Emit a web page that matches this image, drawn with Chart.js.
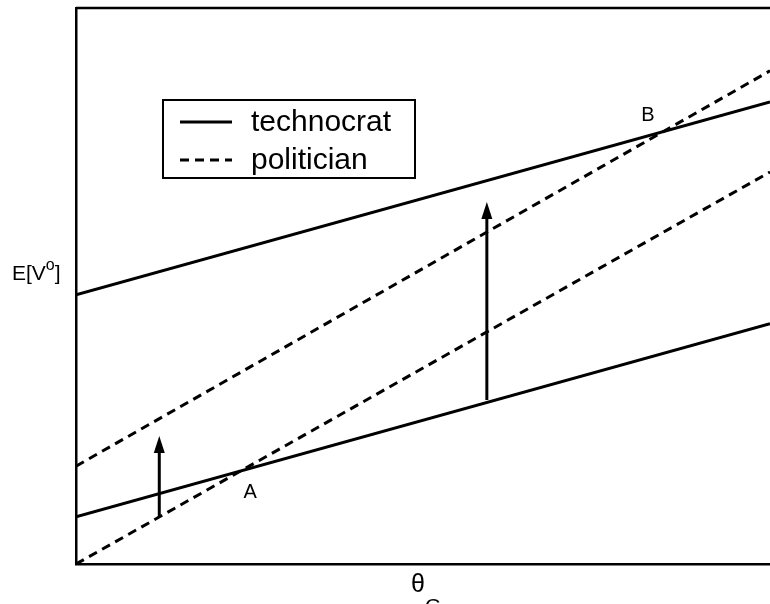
<!DOCTYPE html>
<html>
<head>
<meta charset="utf-8">
<script src="https://cdn.jsdelivr.net/npm/chart.js@4"></script>
<style>
html, body { margin: 0; padding: 0; background: #fff; }
#wrap { width: 770px; height: 604px; }
</style>
</head>
<body>
<div id="wrap"><canvas id="c" width="770" height="604"></canvas></div>
<script>
// x domain (theta_G) endpoints
const xValues = [0, 10];
// technocrat lines (E[V°] at x = 0 and x = 10)
const technocratHigh = [4.84, 8.31];
const technocratLow = [0.85, 4.32];
// politician lines
const politicianHigh = [1.76, 8.87];
const politicianLow = [0.0, 7.05];
// arrows
const arrowX = [1.2, 5.92];
const arrowFrom = [0.85, 2.95];
const arrowTo = [2.30, 6.51];
// point labels
const pointLabels = ['A', 'B'];
const pointLabelX = [2.51, 8.24];
const pointLabelY = [1.28, 8.06];
// legend / axis texts
const legendLabels = ['technocrat', 'politician'];
const yTitle = 'E[V';
const ySup = 'o';
const yTitleEnd = ']';
const xTitle = 'θ';
const xSub = 'G';

const FONT = '"Liberation Sans", Arial, sans-serif';
const toPts = arr => xValues.map((x, i) => ({x: x, y: arr[i]}));

function ds(label, arr, dashed) {
  return {
    label: label,
    data: toPts(arr),
    showLine: true,
    borderColor: '#000',
    borderWidth: 3,
    borderDash: dashed ? [9, 6] : [],
    pointRadius: 0,
    pointHoverRadius: 0,
    fill: false,
    tension: 0
  };
}

const overlay = {
  id: 'overlay',
  afterDatasetsDraw(chart) {
    const ctx = chart.ctx;
    const xs = chart.scales.x, ys = chart.scales.y;
    const a = chart.chartArea;
    ctx.save();
    // top border
    ctx.strokeStyle = '#000';
    ctx.lineWidth = 2.5;
    ctx.beginPath();
    ctx.moveTo(a.left, a.top);
    ctx.lineTo(a.right, a.top);
    ctx.stroke();

    // arrows
    ctx.fillStyle = '#000';
    ctx.lineWidth = 3;
    const headLen = 17, headW = 11;
    for (let i = 0; i < arrowX.length; i++) {
      const px = xs.getPixelForValue(arrowX[i]);
      const y0 = ys.getPixelForValue(arrowFrom[i]);
      const y1 = ys.getPixelForValue(arrowTo[i]);
      ctx.beginPath();
      ctx.moveTo(px, y0);
      ctx.lineTo(px, y1 + headLen - 1);
      ctx.stroke();
      ctx.beginPath();
      ctx.moveTo(px, y1);
      ctx.lineTo(px - headW / 2, y1 + headLen);
      ctx.lineTo(px + headW / 2, y1 + headLen);
      ctx.closePath();
      ctx.fill();
    }

    // point labels
    ctx.font = '20px ' + FONT;
    ctx.textAlign = 'center';
    ctx.textBaseline = 'middle';
    for (let i = 0; i < pointLabels.length; i++) {
      ctx.fillText(pointLabels[i], xs.getPixelForValue(pointLabelX[i]), ys.getPixelForValue(pointLabelY[i]));
    }

    // legend box
    const lx = a.left + 87, ly = a.top + 92, lw = 252, lh = 78;
    ctx.lineWidth = 2;
    ctx.strokeRect(lx, ly, lw, lh);
    const rows = [
      {label: legendLabels[0], dash: chart.data.datasets[0].borderDash, y: ly + 22},
      {label: legendLabels[1], dash: chart.data.datasets[2].borderDash, y: ly + 60}
    ];
    ctx.font = '30px ' + FONT;
    ctx.textAlign = 'left';
    ctx.textBaseline = 'middle';
    rows.forEach(r => {
      ctx.lineWidth = 3;
      ctx.setLineDash(r.dash);
      ctx.beginPath();
      ctx.moveTo(lx + 17, r.y);
      ctx.lineTo(lx + 69, r.y);
      ctx.stroke();
      ctx.setLineDash([]);
      ctx.fillText(r.label, lx + 88, r.y + 1);
    });

    // y axis title
    ctx.textBaseline = 'alphabetic';
    ctx.textAlign = 'left';
    const midY = (a.top + a.bottom) / 2;
    let tx = a.left - 64;
    const by = midY - 6;
    ctx.font = '21px ' + FONT;
    ctx.fillText(yTitle, tx, by);
    tx += ctx.measureText(yTitle).width;
    ctx.font = '16px ' + FONT;
    ctx.fillText(ySup, tx, by - 10);
    tx += ctx.measureText(ySup).width;
    ctx.font = '21px ' + FONT;
    ctx.fillText(yTitleEnd, tx, by);

    // x axis title
    const midX = (a.left + a.right) / 2;
    ctx.font = '25px ' + FONT;
    let sx = midX - 12;
    ctx.fillText(xTitle, sx, a.bottom + 28);
    sx += ctx.measureText(xTitle).width;
    ctx.font = '21px ' + FONT;
    ctx.fillText(xSub, sx, a.bottom + 49);
    ctx.restore();
  }
};

new Chart(document.getElementById('c'), {
  type: 'scatter',
  data: {
    datasets: [
      ds(legendLabels[0], technocratHigh, false),
      ds(legendLabels[0], technocratLow, false),
      ds(legendLabels[1], politicianHigh, true),
      ds(legendLabels[1], politicianLow, true)
    ]
  },
  options: {
    responsive: false,
    animation: false,
    devicePixelRatio: 1,
    layout: { padding: { left: 76, top: 8, right: 0, bottom: 40 } },
    plugins: { legend: { display: false }, tooltip: { enabled: false } },
    scales: {
      x: {
        type: 'linear', min: 0, max: 10,
        ticks: { display: false },
        grid: { display: false, drawTicks: false },
        border: { display: true, color: '#000', width: 2.5 }
      },
      y: {
        type: 'linear', min: 0, max: 10,
        ticks: { display: false },
        grid: { display: false, drawTicks: false },
        border: { display: true, color: '#000', width: 2.5 }
      }
    }
  },
  plugins: [overlay]
});
</script>
</body>
</html>
